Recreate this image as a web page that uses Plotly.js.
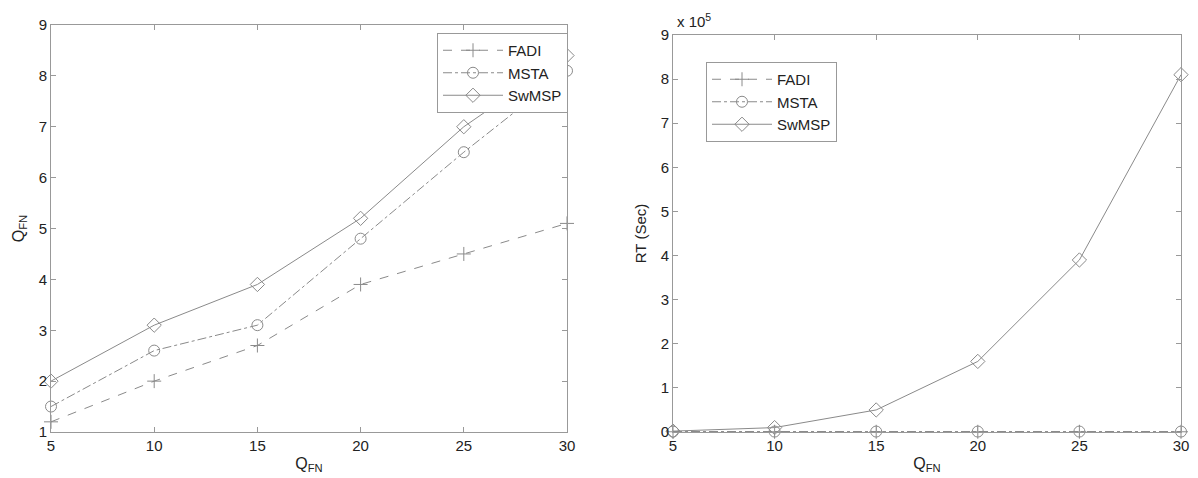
<!DOCTYPE html>
<html><head><meta charset="utf-8">
<script src="https://cdn.plot.ly/plotly-3.0.1.min.js"></script>
<style>body{margin:0;background:#fff}#c{width:1198px;height:478px}</style>
</head><body><div id="c"></div>
<script>
const qfn = [5, 10, 15, 20, 25, 30];
const seriesNames = ['FADI', 'MSTA', 'SwMSP'];
// Left chart: Q_FN
const qFADI = [1.2, 2.0, 2.7, 3.9, 4.5, 5.1];
const qMSTA = [1.5, 2.6, 3.1, 4.8, 6.5, 8.1];
const qSwMSP = [2.0, 3.1, 3.9, 5.2, 7.0, 8.4];
// Right chart: RT (Sec)
const rtFADI = [500, 500, 500, 500, 500, 500];
const rtMSTA = [1000, 1000, 1000, 1000, 1000, 1000];
const rtSwMSP = [2000, 10000, 50000, 160000, 390000, 810000];
const rtTickVals = [0, 100000, 200000, 300000, 400000, 500000, 600000, 700000, 800000, 900000];
const rtTickText = ['0','1','2','3','4','5','6','7','8','9'];

const col = '#8a8a8a';
const styles = [
  {dash: 'dash', symbol: 'cross-thin-open', size: 10},
  {dash: 'dashdot', symbol: 'circle-open', size: 11},
  {dash: 'solid', symbol: 'diamond-open', size: 11}
];
function tr(y, i, xa, ya, leg) {
  return {x: qfn, y: y, name: seriesNames[i], xaxis: xa, yaxis: ya, legend: leg,
    type: 'scatter', mode: 'lines+markers', cliponaxis: false,
    line: {color: col, width: 1, dash: styles[i].dash},
    marker: {symbol: styles[i].symbol, size: styles[i].size, color: col, line: {color: col, width: 1}}};
}
const data = [
  tr(qFADI, 0, 'x', 'y', 'legend'), tr(qMSTA, 1, 'x', 'y', 'legend'), tr(qSwMSP, 2, 'x', 'y', 'legend'),
  tr(rtFADI, 0, 'x2', 'y2', 'legend2'), tr(rtMSTA, 1, 'x2', 'y2', 'legend2'), tr(rtSwMSP, 2, 'x2', 'y2', 'legend2')
];
const W = 1198, H = 478;
const font = {family: 'Liberation Sans, Arial, sans-serif', size: 15, color: '#222'};
const titleFont = {family: 'Liberation Sans, Arial, sans-serif', size: 16, color: '#222'};
const axBase = {showline: true, linecolor: '#999', linewidth: 1, mirror: 'ticks', ticks: 'inside',
  ticklen: 5, tickcolor: '#999', showgrid: false, zeroline: false, tickfont: font};
const layout = {
  width: W, height: H, margin: {l: 0, r: 0, t: 0, b: 0},
  paper_bgcolor: '#fff', plot_bgcolor: '#fff', font: font, showlegend: true,
  xaxis: Object.assign({}, axBase, {domain: [51 / W, 567 / W], range: [5, 30], tickvals: qfn,
    title: {text: 'Q<sub>FN</sub>', font: titleFont, standoff: 4}}),
  yaxis: Object.assign({}, axBase, {domain: [(H - 432) / H, (H - 25) / H], range: [1, 9], dtick: 1,
    title: {text: 'Q<sub>FN</sub>', font: titleFont, standoff: 10}}),
  xaxis2: Object.assign({}, axBase, {domain: [673 / W, 1181 / W], range: [5, 30], tickvals: qfn, anchor: 'y2',
    title: {text: 'Q<sub>FN</sub>', font: titleFont, standoff: 4}}),
  yaxis2: Object.assign({}, axBase, {domain: [(H - 432) / H, (H - 35) / H], range: [0, 900000], anchor: 'x2',
    tickvals: rtTickVals, ticktext: rtTickText,
    title: {text: 'RT (Sec)', font: font, standoff: 10}}),
  legend: {x: 437 / W, y: 1 - 33 / H, xanchor: 'left', yanchor: 'top', bgcolor: '#fff',
    bordercolor: '#999', borderwidth: 1, font: font, tracegroupgap: 0, itemwidth: 60},
  legend2: {x: 706 / W, y: 1 - 62 / H, xanchor: 'left', yanchor: 'top', bgcolor: '#fff',
    bordercolor: '#999', borderwidth: 1, font: font, tracegroupgap: 0, itemwidth: 60},
  annotations: [{xref: 'paper', yref: 'paper', x: 675 / W, y: 1 - 20 / H, xanchor: 'left', yanchor: 'middle',
    text: 'x 10<sup>5</sup>', showarrow: false, font: font}]
};
Plotly.newPlot('c', data, layout, {displayModeBar: false, staticPlot: true});
</script></body></html>
